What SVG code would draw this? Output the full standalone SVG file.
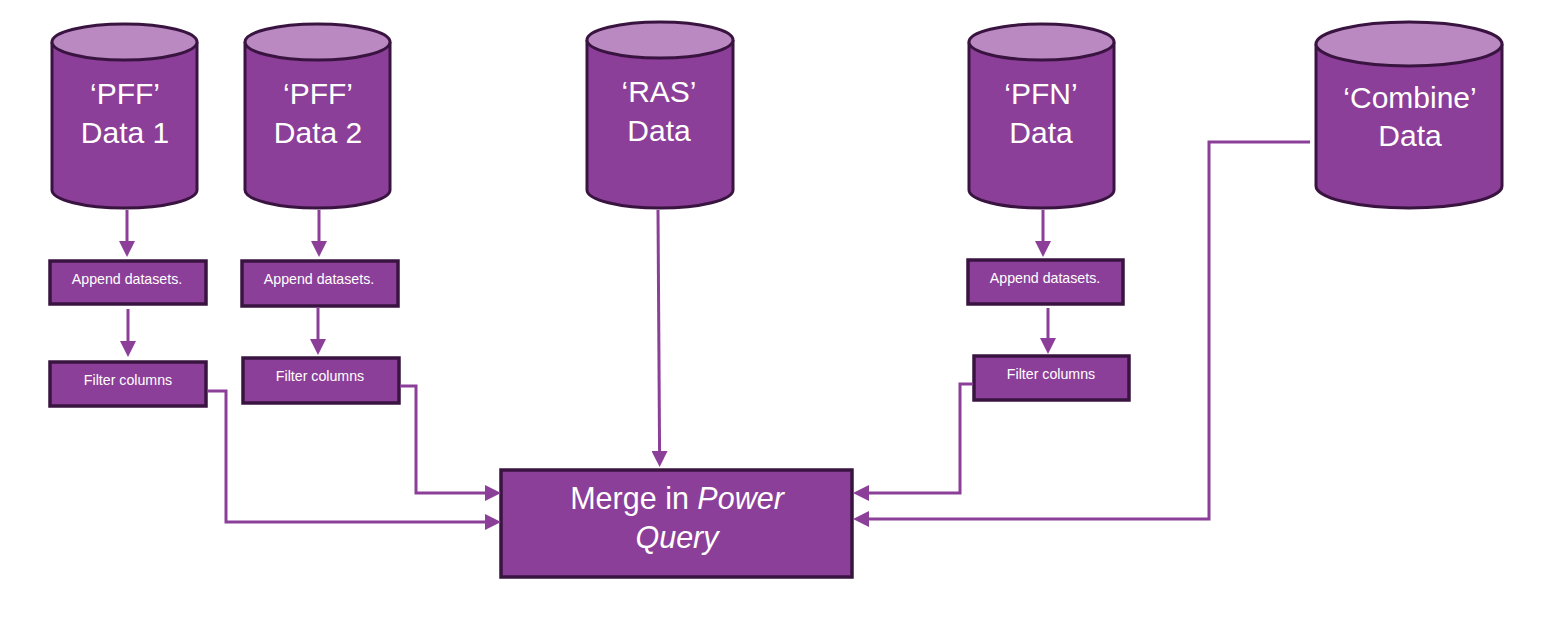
<svg xmlns="http://www.w3.org/2000/svg" width="1544" height="621" viewBox="0 0 1544 621">
<style>
.body{fill:#8C3F98;stroke:#3A1440;stroke-width:3}
.top{fill:#BA89C2;stroke:#3A1440;stroke-width:3}
.box{fill:#8C3F98;stroke:#3A1440;stroke-width:3.5}
.big{font-family:"Liberation Sans",Arial,sans-serif;font-size:30px;fill:#fff;text-anchor:middle}
.small{font-family:"Liberation Sans",Arial,sans-serif;font-size:14.2px;fill:#fff;text-anchor:middle}
.conn{fill:none;stroke:#8C3F98;stroke-width:3}
</style>
<defs>
<marker id="ah" viewBox="0 0 16 16" refX="6" refY="8" markerWidth="16" markerHeight="16" markerUnits="userSpaceOnUse" orient="auto">
<path d="M0,0 L16,8 L0,16 z" fill="#8C3F98"/>
</marker>
</defs>
<rect width="1544" height="621" fill="#fff"/>
<g id="pff1">
<path class="body" d="M52,42 V190 A72.5,18 0 0 0 197,190 V42"/>
<ellipse class="top" cx="124.5" cy="42" rx="72.5" ry="18"/>
<text class="big" x="125" y="104">‘PFF’</text>
<text class="big" x="125" y="143">Data 1</text>
</g>
<g id="pff2">
<path class="body" d="M245,42 V190 A72.5,18 0 0 0 390,190 V42"/>
<ellipse class="top" cx="317.5" cy="42" rx="72.5" ry="18"/>
<text class="big" x="318" y="104">‘PFF’</text>
<text class="big" x="318" y="143">Data 2</text>
</g>
<g id="ras">
<path class="body" d="M587,40 V190 A73,18 0 0 0 733,190 V40"/>
<ellipse class="top" cx="660" cy="40" rx="73" ry="18"/>
<text class="big" x="659" y="102">‘RAS’</text>
<text class="big" x="659" y="141">Data</text>
</g>
<g id="pfn">
<path class="body" d="M969,42 V190 A72.5,18 0 0 0 1114,190 V42"/>
<ellipse class="top" cx="1041.5" cy="42" rx="72.5" ry="18"/>
<text class="big" x="1041" y="104">‘PFN’</text>
<text class="big" x="1041" y="143">Data</text>
</g>
<g id="combine">
<path class="body" d="M1316,44 V186 A93,22 0 0 0 1502,186 V44"/>
<ellipse class="top" cx="1409" cy="44" rx="93" ry="22"/>
<text class="big" x="1410" y="108">‘Combine’</text>
<text class="big" x="1410" y="146">Data</text>
</g>
<g id="append1">
<rect class="box" x="50" y="261" width="156" height="43"/>
<text class="small" x="127" y="284">Append datasets.</text>
</g>
<g id="filter1">
<rect class="box" x="50" y="362" width="156" height="44"/>
<text class="small" x="128" y="385">Filter columns</text>
</g>
<g id="append2">
<rect class="box" x="242" y="261" width="156" height="45"/>
<text class="small" x="319" y="284">Append datasets.</text>
</g>
<g id="filter2">
<rect class="box" x="243" y="358" width="156" height="45"/>
<text class="small" x="320" y="381">Filter columns</text>
</g>
<g id="append3">
<rect class="box" x="968" y="260" width="155" height="44"/>
<text class="small" x="1045" y="283">Append datasets.</text>
</g>
<g id="filter3">
<rect class="box" x="974" y="356" width="155" height="44"/>
<text class="small" x="1051" y="379">Filter columns</text>
</g>
<g id="merge">
<rect class="box" x="501" y="470" width="351" height="107"/>
<text class="big" x="677" y="509" style="font-size:30.5px">Merge in <tspan font-style="italic">Power</tspan></text>
<text class="big" x="677" y="548" style="font-size:30.5px;font-style:italic">Query</text>
</g>
<g id="connectors">
<path class="conn" marker-end="url(#ah)" d="M127,210 V247"/>
<path class="conn" marker-end="url(#ah)" d="M128,309 V347"/>
<path class="conn" marker-end="url(#ah)" d="M319,210 V247"/>
<path class="conn" marker-end="url(#ah)" d="M318,307 V345"/>
<path class="conn" marker-end="url(#ah)" d="M1043,210 V247"/>
<path class="conn" marker-end="url(#ah)" d="M1048,308 V344"/>
<path class="conn" marker-end="url(#ah)" d="M208,391 H226 V522 H491"/>
<path class="conn" marker-end="url(#ah)" d="M400,386 H416 V493 H491"/>
<path class="conn" marker-end="url(#ah)" d="M658,210 L659.6,457"/>
<path class="conn" marker-end="url(#ah)" d="M973,384 H960 V493 H863"/>
<path class="conn" marker-end="url(#ah)" d="M1310,142 H1209 V519 H863"/>
</g>
</svg>
